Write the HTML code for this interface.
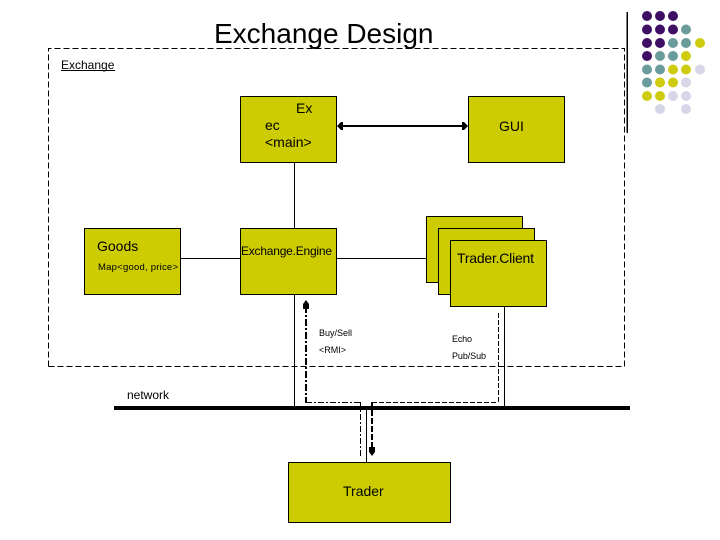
<!DOCTYPE html>
<html><head><meta charset="utf-8"><style>
html,body{margin:0;padding:0;background:#fff;width:720px;height:540px;overflow:hidden}
svg{display:block}
text{font-family:"Liberation Sans",sans-serif;fill:#000}
</style></head><body>
<svg width="720" height="540" viewBox="0 0 720 540" xmlns="http://www.w3.org/2000/svg">
<g fill="#3f0f66"><circle cx="647" cy="16" r="5"/><circle cx="660" cy="16" r="5"/><circle cx="673" cy="16" r="5"/><circle cx="647" cy="29.500" r="5"/><circle cx="660" cy="29.500" r="5"/><circle cx="673" cy="29.500" r="5"/><circle cx="647" cy="43" r="5"/><circle cx="660" cy="43" r="5"/><circle cx="647" cy="56" r="5"/></g>
<g fill="#6b9c9c"><circle cx="686" cy="29.500" r="5"/><circle cx="673" cy="43" r="5"/><circle cx="686" cy="43" r="5"/><circle cx="660" cy="56" r="5"/><circle cx="673" cy="56" r="5"/><circle cx="647" cy="69.500" r="5"/><circle cx="660" cy="69.500" r="5"/><circle cx="647" cy="82.500" r="5"/></g>
<g fill="#cfcc10"><circle cx="700" cy="43" r="5"/><circle cx="686" cy="56" r="5"/><circle cx="673" cy="69.500" r="5"/><circle cx="686" cy="69.500" r="5"/><circle cx="660" cy="82.500" r="5"/><circle cx="673" cy="82.500" r="5"/><circle cx="647" cy="96" r="5"/><circle cx="660" cy="96" r="5"/></g>
<g fill="#d6d6e8"><circle cx="700" cy="69.500" r="5"/><circle cx="686" cy="82.500" r="5"/><circle cx="673" cy="96" r="5"/><circle cx="686" cy="96" r="5"/><circle cx="660" cy="109" r="5"/><circle cx="686" cy="109" r="5"/></g>
<line x1="627.250" y1="12" x2="627.250" y2="133" stroke="#000" stroke-width="1.500"/>
<text x="214" y="43" font-size="28">Exchange Design</text>
<path d="M48.500 366.500V48.500H624.500V366.500H48.500" fill="none" stroke="#000" stroke-width="1" stroke-dasharray="6 3"/>
<text x="61" y="69" font-size="12">Exchange</text>
<line x1="61" y1="70.500" x2="115" y2="70.500" stroke="#000"/>
<g stroke="#000" stroke-width="1" fill="none">
<path d="M294.500 162V228M180 258.500H240M336 258.500H426M294.500 294V408M504.500 306V408M366.500 408V462"/>
</g>
<g fill="#cccc00" stroke="#000" stroke-width="1">
<rect x="240.500" y="96.500" width="96" height="66"/>
<rect x="468.500" y="96.500" width="96" height="66"/>
<rect x="84.500" y="228.500" width="96" height="66"/>
<rect x="240.500" y="228.500" width="96" height="66"/>
<rect x="426.500" y="216.500" width="96" height="66"/>
<rect x="438.500" y="228.500" width="96" height="66"/>
<rect x="450.500" y="240.500" width="96" height="66"/>
<rect x="288.500" y="462.500" width="162" height="60"/>
</g>
<line x1="342" y1="126" x2="464" y2="126" stroke="#000" stroke-width="2"/>
<path d="M337 126L341 122H343V130H341ZM468 126L464 122H462V130H464Z" fill="#000"/>
<text x="296" y="113" font-size="14">Ex</text>
<text x="265" y="130" font-size="14">ec</text>
<text x="265" y="147" font-size="14">&lt;main&gt;</text>
<text x="499" y="131" font-size="14">GUI</text>
<text x="97" y="251" font-size="14">Goods</text>
<text x="98" y="270" font-size="9.500" textLength="80">Map&lt;good, price&gt;</text>
<text x="241" y="255" font-size="12" textLength="91">Exchange.Engine</text>
<text x="457" y="263" font-size="14" textLength="77">Trader.Client</text>
<text x="343" y="496" font-size="14">Trader</text>
<text x="319" y="336" font-size="9" textLength="33">Buy/Sell</text>
<text x="319" y="353" font-size="9" textLength="27">&lt;RMI&gt;</text>
<text x="452" y="342" font-size="9" textLength="20">Echo</text>
<text x="452" y="359" font-size="9" textLength="34">Pub/Sub</text>
<text x="127" y="399" font-size="12">network</text>
<line x1="114" y1="408" x2="630" y2="408" stroke="#000" stroke-width="4"/>
<g fill="none" stroke="#000">
<path d="M306 306V403" stroke-width="2" stroke-dasharray="7 2 2 2"/>
<path d="M306 402.500H360.500" stroke-dasharray="6 2 2 2"/>
<path d="M360.500 402V456" stroke-dasharray="6 2 2 2"/>
<path d="M372 402V451" stroke-width="2" stroke-dasharray="6 2"/>
<path d="M372 402.500H497.500M498.500 402V312" stroke-dasharray="5 2"/>
</g>
<path d="M306 300L309 304V309H303V304ZM372 456L369 452V447H375V452Z" fill="#000"/>
</svg>
</body></html>
